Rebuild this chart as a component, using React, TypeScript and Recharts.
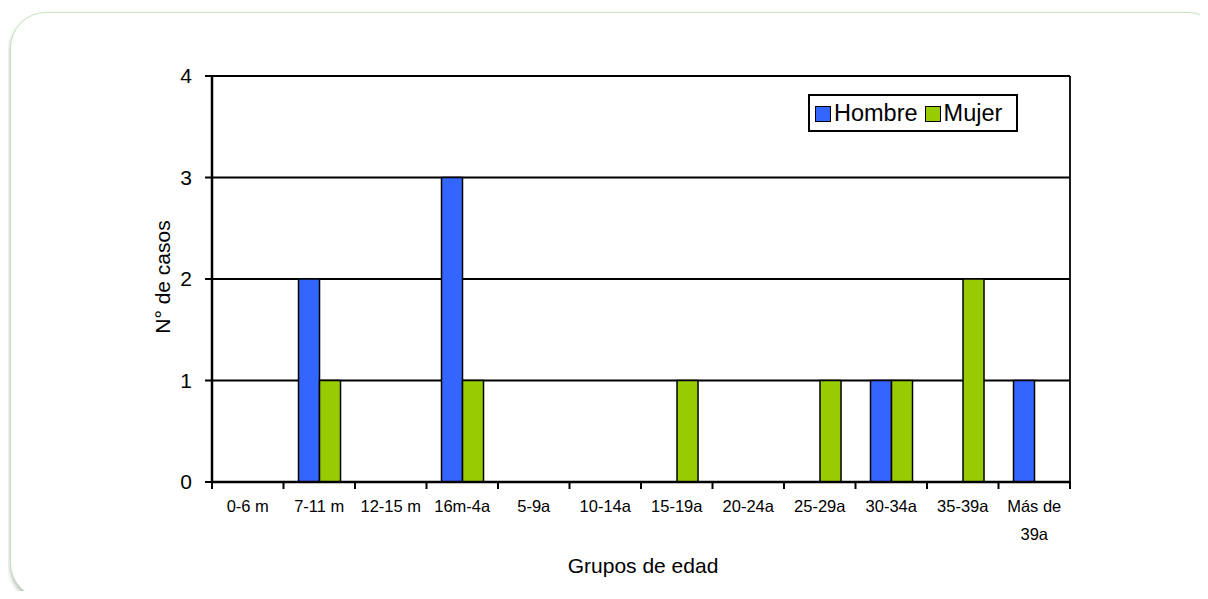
import { BarChart, Bar, XAxis, YAxis, CartesianGrid, Text } from 'recharts';

// Casos por grupo de edad y sexo
const GRUPOS = ['0-6 m', '7-11 m', '12-15 m', '16m-4a', '5-9a', '10-14a', '15-19a', '20-24a', '25-29a', '30-34a', '35-39a', 'Más de 39a'];
const HOMBRE = [0, 2, 0, 3, 0, 0, 0, 0, 0, 1, 0, 1];
const MUJER = [0, 1, 0, 1, 0, 0, 1, 0, 1, 1, 2, 0];
const Y_TICKS = [0, 1, 2, 3, 4];

const BLUE = '#3366ff';
const GREEN = '#99cc00';
const FONT = '"Liberation Sans", Arial, sans-serif';

const W = 1208;
const H = 599;
const PLOT_LEFT = 212;
const PLOT_RIGHT = 1070;
const BAND = (PLOT_RIGHT - PLOT_LEFT) / GRUPOS.length;

const data = GRUPOS.map((g, i) => ({ grupo: g, hombre: HOMBRE[i], mujer: MUJER[i] }));

// x ticks: marks sit on the category boundaries, labels wrap under the band
function GroupTick({ x, y, payload, index }: any) {
  const left = x - BAND / 2;
  return (
    <g>
      <line x1={left} y1={y - 8} x2={left} y2={y - 1} stroke="#000" strokeWidth={2} />
      {index === GRUPOS.length - 1 && (
        <line x1={left + BAND} y1={y - 8} x2={left + BAND} y2={y - 1} stroke="#000" strokeWidth={2} />
      )}
      <Text
        x={x}
        y={y + 10}
        width={66}
        textAnchor="middle"
        verticalAnchor="start"
        fontSize={16.5}
        fontFamily={FONT}
        fill="#000"
        lineHeight={28}
      >
        {payload.value}
      </Text>
    </g>
  );
}

function LegendSwatch({ color }: { color: string }) {
  return (
    <span
      style={{
        display: 'inline-block',
        width: 14,
        height: 14,
        background: color,
        border: '1.5px solid #000',
        marginRight: 3,
        verticalAlign: -1,
      }}
    />
  );
}

export default function App() {
  return (
    <div style={{ position: 'relative', margin: -8, width: W, height: H, overflow: 'hidden', background: '#fff', fontFamily: FONT }}>
      <div
        style={{
          position: 'absolute',
          left: 10,
          top: 12,
          width: 1212,
          height: 585,
          border: '1.5px solid #c4e6bd',
          borderRadius: 36,
          boxShadow: '0 3px 4px rgba(0,0,0,0.28)',
          background: '#fff',
        }}
      />
      <div style={{ position: 'absolute', left: 63, top: 590, width: 1047, height: 12, background: '#fff' }} />

      <div style={{ position: 'absolute', left: 0, top: 0 }}>
        <BarChart
          width={W}
          height={H}
          data={data}
          margin={{ top: 76, right: W - PLOT_RIGHT, bottom: 0, left: 0 }}
          barCategoryGap="21%"
          barGap={0}
        >
          <CartesianGrid
            horizontal
            vertical
            verticalPoints={[PLOT_RIGHT]}
            stroke="#000"
            strokeWidth={1.8}
            strokeOpacity={1}
          />
          <XAxis
            dataKey="grupo"
            height={117}
            interval={0}
            tickLine={false}
            axisLine={{ stroke: '#000', strokeWidth: 2.5 }}
            tick={<GroupTick />}
          />
          <YAxis
            width={PLOT_LEFT}
            domain={[0, 4]}
            ticks={Y_TICKS}
            interval={0}
            allowDecimals={false}
            axisLine={{ stroke: '#000', strokeWidth: 2.5 }}
            tickLine={{ stroke: '#000', strokeWidth: 2 }}
            tickSize={7}
            tickMargin={13}
            tick={{ fill: '#000', fontSize: 21, fontFamily: FONT }}
          />
          <Bar dataKey="hombre" name="Hombre" fill={BLUE} stroke="#000" strokeWidth={1.5} isAnimationActive={false} />
          <Bar dataKey="mujer" name="Mujer" fill={GREEN} stroke="#000" strokeWidth={1.5} isAnimationActive={false} />
        </BarChart>
      </div>

      <div
        style={{
          position: 'absolute',
          left: 808,
          top: 94,
          width: 201,
          height: 34,
          border: '2px solid #000',
          background: '#fff',
          fontSize: 23.5,
          lineHeight: '34px',
          paddingLeft: 5,
          whiteSpace: 'nowrap',
          color: '#000',
        }}
      >
        <LegendSwatch color={BLUE} />
        <span style={{ marginRight: 7 }}>Hombre</span>
        <LegendSwatch color={GREEN} />
        <span>Mujer</span>
      </div>

      <div
        style={{
          position: 'absolute',
          left: 163,
          top: 277,
          transform: 'translate(-50%, -50%) rotate(-90deg)',
          fontSize: 21,
          whiteSpace: 'nowrap',
          color: '#000',
        }}
      >
        N° de casos
      </div>
      <div
        style={{
          position: 'absolute',
          left: 643,
          top: 566,
          transform: 'translate(-50%, -50%)',
          fontSize: 21,
          whiteSpace: 'nowrap',
          color: '#000',
        }}
      >
        Grupos de edad
      </div>
    </div>
  );
}
